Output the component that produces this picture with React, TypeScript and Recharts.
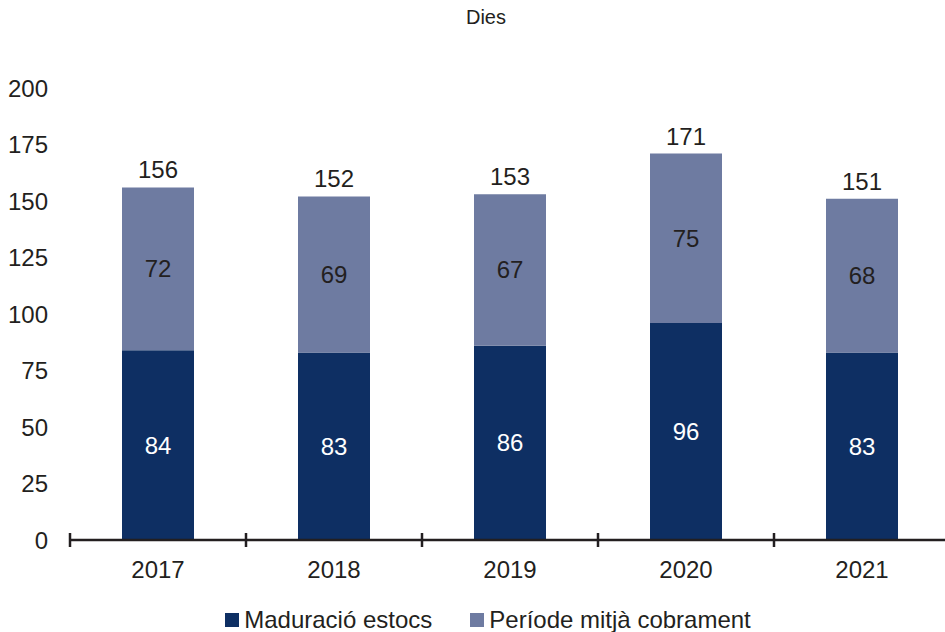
import React from 'react';
import { BarChart, Bar, XAxis, YAxis, LabelList, ReferenceLine, Legend } from 'recharts';

const years = ['2017', '2018', '2019', '2020', '2021'];
const maduracio = [84, 83, 86, 96, 83];
const periode = [72, 69, 67, 75, 68];
const totals = [156, 152, 153, 171, 151];
const yTicks = [0, 25, 50, 75, 100, 125, 150, 175, 200];

const SERIES_DARK = 'Maduració estocs';
const SERIES_LIGHT = 'Període mitjà cobrament';
const DARK = '#0e2f63';
const LIGHT = '#6e7ba1';
const TEXT = '#231f20';
const FONT = '"Liberation Sans", Arial, sans-serif';

const data = years.map((y, i) => ({
  year: y,
  mad: maduracio[i],
  per: periode[i],
  total: totals[i],
}));

const LegendContent = () => (
  <div
    style={{
      display: 'flex',
      justifyContent: 'center',
      alignItems: 'center',
      height: 24,
      fontFamily: FONT,
      fontSize: 24,
      color: TEXT,
      paddingLeft: 26,
    }}
  >
    {[
      { name: SERIES_DARK, color: DARK },
      { name: SERIES_LIGHT, color: LIGHT },
    ].map((it, i) => (
      <div key={it.name} style={{ display: 'flex', alignItems: 'center', marginRight: i === 0 ? 38 : 0 }}>
        <span style={{ display: 'inline-block', width: 14, height: 14, background: it.color, marginRight: 5 }} />
        <span>{it.name}</span>
      </div>
    ))}
  </div>
);

export default function App() {
  return (
    <div style={{ position: 'absolute', left: 0, top: 0, width: 945, height: 632, overflow: 'hidden', background: '#fff' }}>
      <div
        style={{
          position: 'absolute',
          left: 0,
          width: 972,
          top: 6,
          textAlign: 'center',
          fontFamily: FONT,
          fontSize: 20,
          color: TEXT,
        }}
      >
        Dies
      </div>
      <BarChart
        width={960}
        height={632}
        data={data}
        margin={{ top: 88, right: 10, bottom: 0, left: 0 }}
        barCategoryGap={0}
      >
        <XAxis
          dataKey="year"
          axisLine={{ stroke: TEXT, strokeWidth: 2.5 }}
          tickLine={false}
          tickSize={0}
          tickMargin={21}
          height={68}
          interval={0}
          tick={{ fill: TEXT, fontSize: 24, fontFamily: FONT }}
        />
        <YAxis
          width={70}
          domain={[0, 200]}
          ticks={yTicks}
          axisLine={false}
          tickLine={false}
          tickSize={0}
          tickMargin={22}
          tick={{ fill: TEXT, fontSize: 24, fontFamily: FONT }}
        />
        <Legend verticalAlign="bottom" height={24} content={<LegendContent />} />
        <Bar dataKey="mad" name={SERIES_DARK} stackId="a" fill={DARK} barSize={72} isAnimationActive={false}>
          <LabelList dataKey="mad" position="center" fill="#ffffff" fontSize={24} fontFamily={FONT} />
        </Bar>
        <Bar dataKey="per" name={SERIES_LIGHT} stackId="a" fill={LIGHT} barSize={72} isAnimationActive={false}>
          <LabelList dataKey="per" position="center" fill={TEXT} fontSize={24} fontFamily={FONT} />
          <LabelList dataKey="total" position="top" offset={9} fill={TEXT} fontSize={24} fontFamily={FONT} />
        </Bar>
        {years.map((y) => (
          <ReferenceLine
            key={'t' + y}
            segment={[{ x: y, y: -3.1 }, { x: y, y: 3.1 }]}
            position="start"
            ifOverflow="visible"
            stroke={TEXT}
            strokeWidth={2.5}
          />
        ))}
        <ReferenceLine
          segment={[{ x: years[years.length - 1], y: -3.1 }, { x: years[years.length - 1], y: 3.1 }]}
          position="end"
          ifOverflow="visible"
          stroke={TEXT}
          strokeWidth={2.5}
        />
      </BarChart>
    </div>
  );
}
